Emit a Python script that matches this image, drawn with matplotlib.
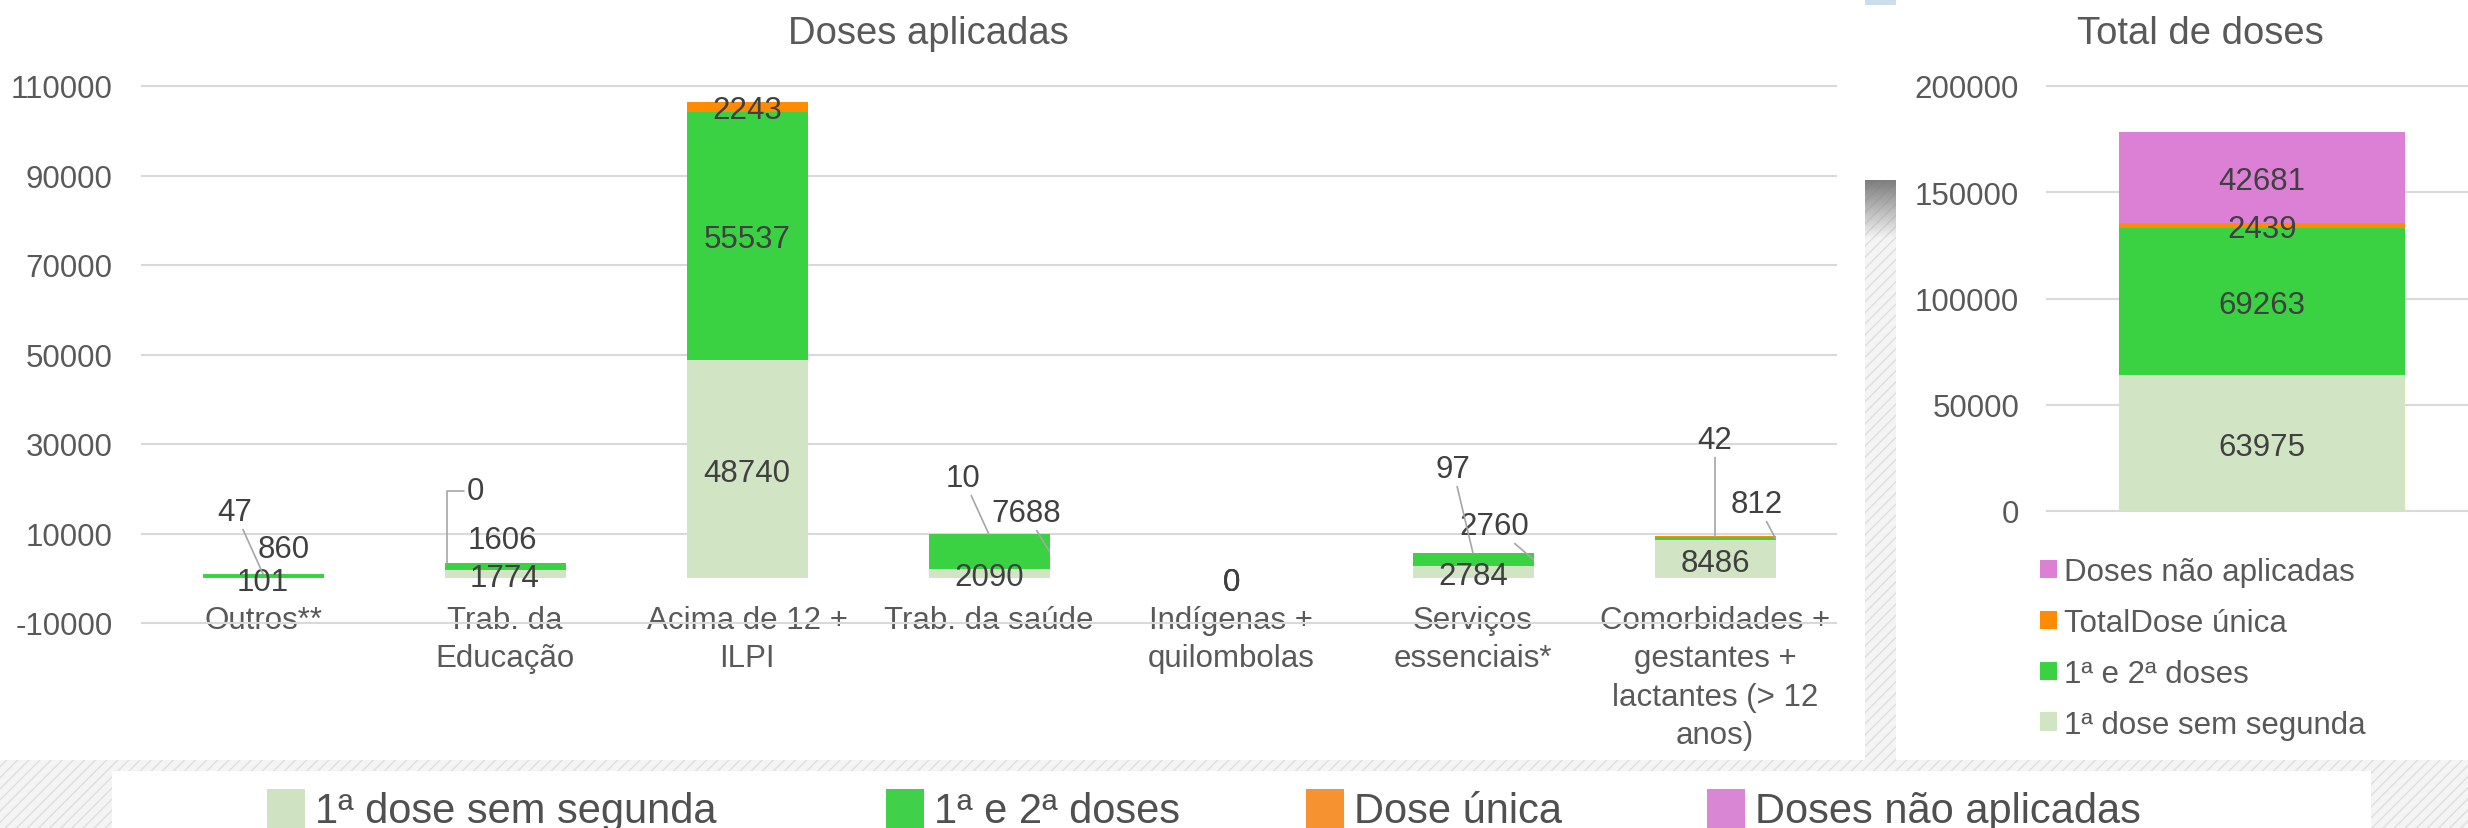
import matplotlib
matplotlib.use("Agg")
import matplotlib.pyplot as plt
import numpy as np
from matplotlib.patches import Patch, Rectangle

W, H, DPI = 2468, 829, 100

categories = [
    "Outros**",
    "Trab. da\nEducação",
    "Acima de 12 +\nILPI",
    "Trab. da saúde",
    "Indígenas +\nquilombolas",
    "Serviços\nessenciais*",
    "Comorbidades +\ngestantes +\nlactantes (> 12\nanos)",
]
primeira_sem_segunda = [101, 1774, 48740, 2090, 0, 2784, 8486]
primeira_e_segunda = [860, 1606, 55537, 7688, 0, 2760, 812]
dose_unica = [47, 0, 2243, 10, 0, 97, 42]

total_names = ["1ª dose sem segunda", "1ª e 2ª doses", "TotalDose única", "Doses não aplicadas"]
total_values = [63975, 69263, 2439, 42681]

legend_names = ["1ª dose sem segunda", "1ª e 2ª doses", "Dose única", "Doses não aplicadas"]

left_yticks = list(range(-10000, 110001, 20000))
right_yticks = list(range(0, 200001, 50000))

# labels Excel pushed out of the bar: (series, category) -> (dx, y, leader target)
moved_labels = {
    (2, 0): (-0.116, 15645, "center"),
    (1, 0): (0.087, 7375, None),
    (2, 1): (-0.124, 20340, "corner"),
    (1, 1): (-0.01, 9387, None),
    (2, 3): (-0.107, 23240, "center"),
    (1, 3): (0.153, 15420, "right"),
    (2, 5): (-0.083, 25255, "center"),
    (1, 5): (0.087, 12516, "right"),
    (2, 6): (0.0, 31737, "center"),
    (1, 6): (0.174, 17433, "right"),
}

COLORS = ["#d1e4c4", "#3ad142", "#ff8c00", "#dc80d6"]
LEGEND_COLORS = ["#cfe3c2", "#40d04a", "#f79230", "#d987d4"]
TEXT_GRAY = "#595959"
LABEL_GRAY = "#404040"
GRID = "#d9d9d9"
LEADER = "#a6a6a6"

plt.rcParams.update({
    "font.family": ["Liberation Sans", "DejaVu Sans"],
    "hatch.linewidth": 1.0,
    "axes.unicode_minus": False,
})


def box(x0, y0, x1, y1):
    """pixel box (origin top-left) -> figure fraction rect"""
    return [x0 / W, 1 - y1 / H, (x1 - x0) / W, (y1 - y0) / H]


fig = plt.figure(figsize=(W / DPI, H / DPI), dpi=DPI)
fig.patch.set_facecolor("white")


def fig_rect(x0, y0, x1, y1, **kw):
    r = box(x0, y0, x1, y1)
    fig.patches.append(Rectangle((r[0], r[1]), r[2], r[3], transform=fig.transFigure,
                                 zorder=-1, linewidth=0, **kw))


HATCH = dict(facecolor="#f4f4f4", edgecolor="#dedede", hatch="///")

# dashboard background: bottom band, separator strip, legend box
fig_rect(0, 761, W, H, **HATCH)
fig_rect(1865, 181, 1896, 761, **HATCH)
fig_rect(1865, 0, 1896, 6, facecolor="#ccdce8")
fig_rect(112, 772, 2371, H + 5, facecolor="white")

grad = np.zeros((60, 1, 4))
grad[..., :3] = 0.47
grad[:, 0, 3] = np.linspace(0.95, 0.0, 60)
ax_g = fig.add_axes(box(1865, 181, 1896, 240))
ax_g.imshow(grad, aspect="auto")
ax_g.axis("off")

# --- left chart: Doses aplicadas ---
ax = fig.add_axes(box(142, 87, 1836, 624))
x = np.arange(len(categories))
series = [primeira_sem_segunda, primeira_e_segunda, dose_unica]
width = 0.5
bottoms = []
bottom = np.zeros(len(categories))
for vals, color in zip(series, COLORS):
    ax.bar(x, vals, width, bottom=bottom, color=color, zorder=2)
    bottoms.append(bottom.copy())
    bottom = bottom + np.array(vals)
totals = bottom

ax.set_xlim(-0.5, len(categories) - 0.5)
ax.set_ylim(-10000, 110000)
ax.set_yticks(left_yticks)
ax.set_xticks(x, categories)
ax.tick_params(axis="y", length=0, pad=21, labelsize=22.5, labelcolor=TEXT_GRAY)
ax.tick_params(axis="x", length=0, pad=-13.3, labelsize=22.5, labelcolor=TEXT_GRAY)
for lbl in ax.get_xticklabels():
    lbl.set_linespacing(1.37)
ax.grid(axis="y", color=GRID, linewidth=1.5, zorder=0)
ax.set_axisbelow(True)
for sp in ax.spines.values():
    sp.set_visible(False)
for gl in ax.get_ygridlines():
    gl.set_clip_on(False)

for s, vals in enumerate(series):
    for i, v in enumerate(vals):
        mid = bottoms[s][i] + v / 2
        if (s, i) in moved_labels:
            dx, ly, target = moved_labels[(s, i)]
            if target is None:
                ax.text(i + dx, ly, str(v), ha="center", va="center_baseline",
                        fontsize=22.5, color=LABEL_GRAY, zorder=4)
                continue
            if target == "right":
                xy, conn = (i + width / 2, mid), "arc3"
            elif target == "corner":
                xy, conn = (i - width / 2 + 0.01, totals[i]), "angle,angleA=0,angleB=90,rad=0"
            else:
                xy, conn = (i, mid), "arc3"
            ax.annotate(str(v), xy=xy, xytext=(i + dx, ly), ha="center", va="center_baseline",
                        fontsize=22.5, color=LABEL_GRAY, zorder=4,
                        arrowprops=dict(arrowstyle="-", color=LEADER, lw=1.2,
                                        shrinkA=0, shrinkB=0, connectionstyle=conn))
        else:
            ax.text(i, mid, str(v), ha="center", va="center_baseline",
                    fontsize=22.5, color=LABEL_GRAY, zorder=4)

fig.text(928 / W, 1 - 30 / H, "Doses aplicadas", ha="center", va="center_baseline",
         fontsize=27.5, color=TEXT_GRAY)

# --- right chart: Total de doses ---
ax2 = fig.add_axes(box(2047, 87, 2477, 512))
b = 0
handles = []
for name, v, color in zip(total_names, total_values, COLORS):
    ax2.bar(0, v, 0.667, bottom=b, color=color, label=name, zorder=2)
    handles.append(Patch(facecolor=color, label=name))
    ax2.text(0, b + v / 2, str(v), ha="center", va="center_baseline",
             fontsize=22.5, color=LABEL_GRAY, zorder=4)
    b += v
ax2.set_xlim(-0.5, 0.5)
ax2.set_ylim(0, 200000)
ax2.set_yticks(right_yticks)
ax2.set_xticks([])
ax2.tick_params(axis="y", length=0, pad=20, labelsize=22.5, labelcolor=TEXT_GRAY)
ax2.grid(axis="y", color=GRID, linewidth=1.5, zorder=0)
ax2.set_axisbelow(True)
for sp in ax2.spines.values():
    sp.set_visible(False)
for gl in ax2.get_ygridlines():
    gl.set_clip_on(False)

fig.text(2200 / W, 1 - 30 / H, "Total de doses", ha="center", va="center_baseline",
         fontsize=27.5, color=TEXT_GRAY)

fig.legend(handles=handles[::-1], loc="upper left", bbox_to_anchor=(2040 / W, 1 - 558 / H),
           frameon=False, fontsize=22.5, labelcolor=TEXT_GRAY, borderpad=0, borderaxespad=0,
           handlelength=0.54, handleheight=0.54, handletextpad=0.22, labelspacing=0.67)

# --- bottom legend strip ---
legend_x = [267, 886, 1306, 1707]
for name, color, lx in zip(legend_names, LEGEND_COLORS, legend_x):
    fig.legend(handles=[Patch(facecolor=color)], labels=[name], loc="center left",
               bbox_to_anchor=(lx / W, 1 - 811 / H), frameon=False, fontsize=30,
               labelcolor="#505050", borderpad=0, borderaxespad=0,
               handlelength=0.91, handleheight=1.06, handletextpad=0.24)

fig.savefig("out.png", dpi=DPI)
